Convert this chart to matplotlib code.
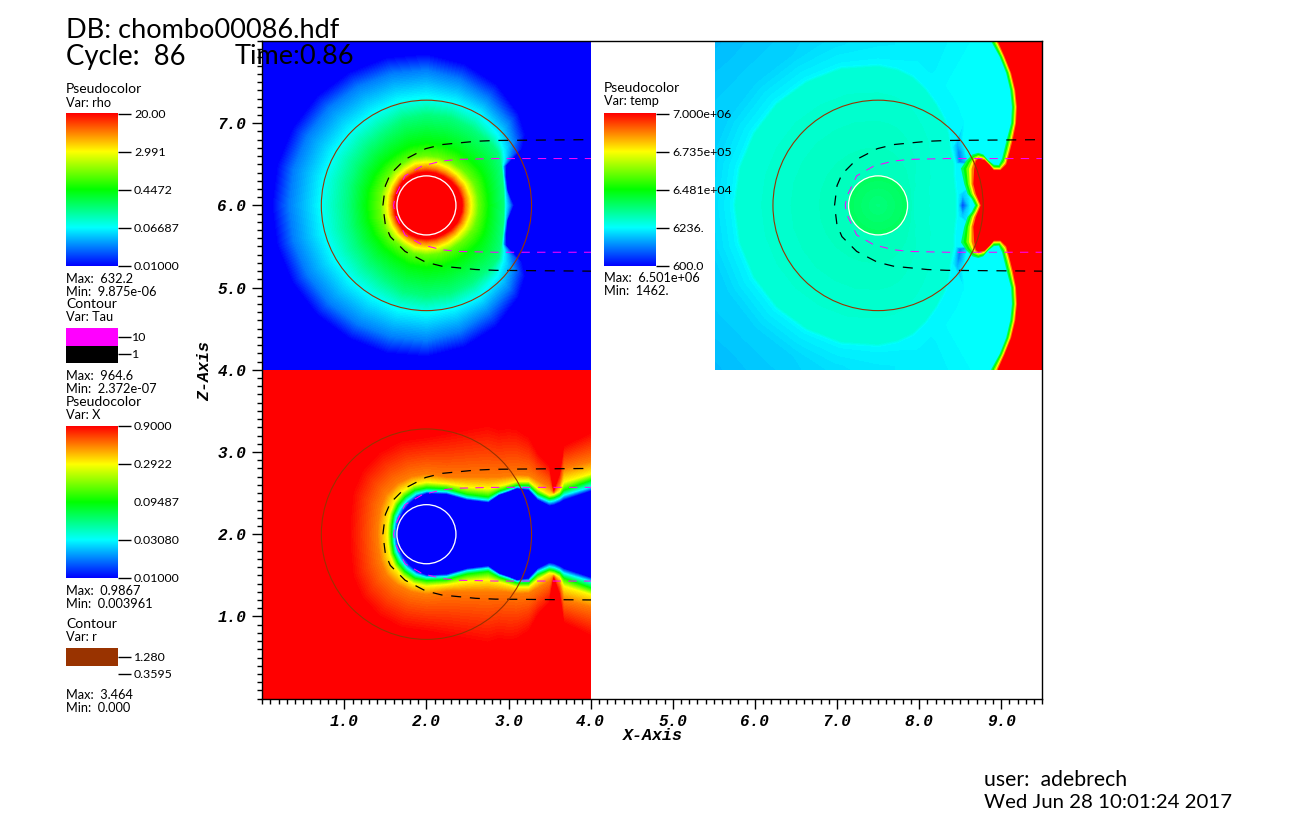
import numpy as np
import matplotlib
matplotlib.use("Agg")
import matplotlib.pyplot as plt
from matplotlib.colors import LinearSegmentedColormap
from matplotlib.patches import Rectangle, Circle
from matplotlib.ticker import MultipleLocator, FixedLocator, FixedFormatter

W, H = 1313, 822
FONT = "Lato"
RAINBOW = ["#0000ff", "#00ffff", "#00ff00", "#ffff00", "#ff0000"]

# ---------- density panel: radius at which each colour level is reached, per ray
rho_angles = [0, 10, 20, 27, 31, 36, 45, 60, 75, 90, 105, 120, 135, 150, 165, 180]
rho_levels = [1, 1, .875, .75, .6, .5, .38, .25, .125, 0, 0]
rho_radii = [
    [.43, .47, .54, .63, .75, .94, .96, 1.02, 1.06],
    [.43, .47, .54, .63, .75, .95, .97, .99, 1.00],
    [.42, .47, .53, .63, .76, .98, 1.00, 1.01, 1.03],
    [.42, .47, .53, .63, .77, 1.02, 1.04, 1.06, 1.09],
    [.42, .46, .53, .62, .77, 1.04, 1.10, 1.20, 1.36],
    [.41, .46, .52, .62, .77, 1.08, 1.15, 1.32, 1.48],
    [.41, .46, .52, .61, .76, 1.08, 1.22, 1.42, 1.58],
    [.40, .45, .52, .60, .75, 1.08, 1.28, 1.50, 1.70],
    [.40, .45, .52, .60, .75, 1.10, 1.30, 1.58, 1.78],
    [.40, .45, .52, .60, .75, 1.10, 1.32, 1.64, 1.84],
    [.40, .45, .52, .60, .74, 1.08, 1.32, 1.65, 1.86],
    [.40, .44, .50, .58, .72, 1.02, 1.30, 1.66, 1.87],
    [.40, .44, .49, .58, .72, 1.00, 1.30, 1.67, 1.88],
    [.39, .43, .48, .57, .72, .98, 1.30, 1.67, 1.88],
    [.385, .425, .475, .565, .72, .96, 1.30, 1.67, 1.88],
    [.38, .42, .47, .56, .72, .95, 1.30, 1.67, 1.88],
]

# ---------- temperature panel
temp_angles = [0, 8, 15, 22, 28, 33, 38, 45, 52, 60, 68, 75, 82, 90, 105, 120, 135, 150, 165, 180]
temp_edge = [.95, .96, .97, 1.0, 1.05, 1.08, 1.12, 1.22, 1.32, 1.42, 1.53, 1.62, 1.67, 1.70, 1.73, 1.74, 1.75, 1.75, 1.75, 1.75]
temp_dip_r = [1.03, 1.04, 1.25, 1.3, 1.13, 1.17, 1.22, 1.5, 1.6, 1.7, 1.8, 1.9, 1.95, 2.0, 2.0, 2.0, 2.0, 2.0, 2.0, 2.0]
temp_dip_level = [.06, .20, .25, .25, .11, .12, .18, .25, .25, .25, .24, .24, .235, .23, .225, .22, .22, .22, .22, .22]
temp_after_level = [.25, .25, .25, .25, .25, .25, .25, .25, .25, .25, .24, .24, .235, .23, .22, .21, .21, .21, .21, .21]
temp_far_level = [.25, .25, .25, .25, .25, .25, .25, .25, .25, .25, .24, .23, .22, .21, .195, .18, .17, .18, .185, .19]
temp_core_levels = [.38, .41, .32, .30, .29, .245]
temp_core_radii = [0, .35, .37]
front_green_x = [1.36, 1.38, 1.48, 1.56, 1.61, 1.63, 1.62, 1.58, 1.54, 1.51, 1.47, 1.41, 1.34, 1.28, 1.22, 1.15, 1.07, 1.01, 1.05, 1.09, 1.14, 1.18]
front_green_y = [2.10, 1.99, 1.81, 1.61, 1.40, 1.20, 1.00, .85, .69, .57, .49, .495, .55, .62, .64, .62, .54, .45, .26, .14, .08, 0]
front_red_x = [1.44, 1.46, 1.54, 1.62, 1.67, 1.69, 1.68, 1.64, 1.60, 1.56, 1.49, 1.41, 1.36, 1.30, 1.22, 1.19, 1.18, 1.17, 1.16, 1.19, 1.22, 1.25]
front_red_y = [2.10, 1.99, 1.81, 1.61, 1.40, 1.20, 1.00, .80, .64, .50, .43, .43, .49, .55, .57, .54, .50, .44, .26, .14, .07, 0]
front_levels = [.42, .50, .62, .75, .88, 1.0]

# ---------- hydrogen fraction panel
x_levels = [0, 0, .25, .5, .75, .875, 1, 1]
x_angles = [180, 165, 150, 135, 120, 105]
x_radii = [
    [.36, .40, .43, .48, .60, .95],
    [.37, .41, .44, .49, .61, .97],
    [.38, .43, .47, .52, .65, 1.05],
    [.40, .45, .50, .56, .70, 1.12],
    [.43, .48, .53, .60, .72, 1.17],
    [.47, .51, .56, .63, .73, 1.20],
]
x_stations = [0, .25, .5, .75, .88, 1.0, 1.1, 1.25, 1.36, 1.5, 1.55, 1.62, 1.67, 2.0, 2.1]
x_heights = [
    [.50, .53, .57, .64, .74, 1.20],
    [.49, .52, .56, .62, .70, 1.25],
    [.42, .45, .49, .58, .70, 1.30],
    [.39, .42, .46, .56, .70, 1.35],
    [.48, .50, .53, .59, .70, 1.30],
    [.52, .54, .57, .62, .71, 1.32],
    [.56, .58, .60, .65, .73, 1.30],
    [.54, .57, .60, .65, .72, 1.20],
    [.42, .46, .50, .56, .66, 1.00],
    [.35, .40, .44, .48, .58, .85],
    [.36, .41, .45, .49, .51, .54],
    [.39, .44, .48, .53, .60, .75],
    [.42, .48, .54, .64, .80, 1.09],
    [.53, .58, .66, .74, .89, 1.25],
    [.53, .58, .66, .74, .89, 1.25],
]

# ---------- contour curves (offsets from each panel's star centre)
tau1_x = [-.53, -.50, -.44, -.26, -.01, .19, .60, .84, 2.02]
tau1_y = [0, .24, .38, .56, .69, .74, .78, .79, .80]
tau10_x = [-.40, -.38, -.26, -.05, .19, .39, .84, 2.02]
tau10_y = [0, .11, .36, .48, .54, .56, .57, .57]
r_contours = [1.28, .3595]
panel_centres = [(2, 6), (7.5, 6), (2, 2)]
panel_boxes = [(0, 4, 4.01, 4.0), (5.52, 4, 3.98, 4.0), (0, 0, 4.01, 4.0)]

# ---------- legends
rho_ticks = ["20.00", "2.991", "0.4472", "0.06687", "0.01000"]
temp_ticks = ["7.000e+06", "6.735e+05", "6.481e+04", "6236.", "600.0"]
x_ticks = ["0.9000", "0.2922", "0.09487", "0.03080", "0.01000"]
major_x = [1, 2, 3, 4, 5, 6, 7, 8, 9]
major_y = [1, 2, 3, 4, 5, 6, 7]

cmap = LinearSegmentedColormap.from_list("rainbow", RAINBOW, N=256)
fig = plt.figure(figsize=(W / 100, H / 100), dpi=100, facecolor="white")
ax = fig.add_axes([262.2 / W, (H - 698.6) / H, 780.1 / W, 657.6 / H])
ax.set_xlim(0, 9.5)
ax.set_ylim(0, 8)

LEVELS = np.linspace(-.001, 1.001, 129)


def field(X, Y, Z, box):
    cs = ax.contourf(X, Y, Z, levels=LEVELS, cmap=cmap, vmin=0, vmax=1, zorder=1)
    cs.set_clip_path(Rectangle(box[:2], box[2], box[3], transform=ax.transData))


def mirror(a, sign=1):
    a = np.asarray(a, float)
    return np.vstack([a, sign * a[-2::-1]])


# density
ang = np.radians(rho_angles)
R = np.column_stack([np.zeros(len(ang)), np.array(rho_radii), np.full(len(ang), 3.2)])
Z = np.tile(rho_levels, (len(ang), 1))
A = np.tile(ang[:, None], (1, R.shape[1]))
X0, Y0 = R * np.cos(A), R * np.sin(A)
field(2 + mirror(X0), 6 + mirror(Y0, -1), mirror(Z), panel_boxes[0])

# temperature base
ang = np.radians(temp_angles)
n = len(ang)
edge = np.array(temp_edge)
dip_r = np.array(temp_dip_r)
R = np.column_stack([np.full(n, temp_core_radii[0]), np.full(n, temp_core_radii[1]), np.full(n, temp_core_radii[2]),
                     edge - .5, edge - .02, edge + .02, dip_r, dip_r + .1, np.full(n, 3.2)])
Z = np.column_stack([np.full(n, temp_core_levels[0]), np.full(n, temp_core_levels[1]), np.full(n, temp_core_levels[2]),
                     np.full(n, temp_core_levels[3]), np.full(n, temp_core_levels[4]), np.full(n, temp_core_levels[5]),
                     np.array(temp_dip_level), np.array(temp_after_level), np.array(temp_far_level)])
A = np.tile(ang[:, None], (1, R.shape[1]))
X0, Y0 = R * np.cos(A), R * np.sin(A)
field(7.5 + mirror(X0), 6 + mirror(Y0, -1), mirror(Z), panel_boxes[1])

# temperature front, drawn as nested regions from the outer rim inwards
gx, gy, rx, ry = map(np.array, (front_green_x, front_green_y, front_red_x, front_red_y))
box = panel_boxes[1]
for t, lev in zip(np.linspace(0, 1, len(front_levels)), front_levels):
    fx = (1 - t) * gx + t * rx
    fy = (1 - t) * gy + t * ry
    px = np.r_[2.3, fx, fx[-2::-1], 2.3]
    py = np.r_[2.1, fy, -fy[-2::-1], -2.1]
    poly = ax.fill(7.5 + px, 6 + py, color=cmap(lev), lw=0, zorder=2)[0]
    poly.set_clip_path(Rectangle(box[:2], box[2], box[3], transform=ax.transData))

# hydrogen fraction
ang = np.radians(x_angles)
n_a = len(ang)
Rp = np.array(x_radii)
Xp = np.column_stack([np.zeros(n_a), Rp, np.full(n_a, 3.2)]) * np.cos(ang)[:, None]
Yp = np.column_stack([np.zeros(n_a), Rp, np.full(n_a, 3.2)]) * np.sin(ang)[:, None]
st = np.array(x_stations)
Hh = np.array(x_heights)
Xs = np.tile(st[:, None], (1, 8))
Ys = np.column_stack([np.zeros(len(st)), Hh, np.full(len(st), 3.2)])
Xu = np.vstack([Xs[::-1], Xp[::-1]])
Yu = np.vstack([Ys[::-1], Yp[::-1]])
XX = np.vstack([Xu, Xu[-2::-1]])
YY = np.vstack([Yu, -Yu[-2::-1]])
ZZ = np.tile(x_levels, (XX.shape[0], 1))
field(2 + XX, 2 + YY, ZZ, panel_boxes[2])

# contour lines in all panels
for (cx, cy), b in zip(panel_centres, panel_boxes):
    clip = Rectangle(b[:2], b[2], b[3], transform=ax.transData)
    for rad, col, lw in zip(r_contours, ["#993300", "white"], [.8, .95]):
        c = Circle((cx, cy), rad, fill=False, ec=col, lw=lw, zorder=4)
        ax.add_patch(c)
    for xs, ys, col, lw in ((tau1_x, tau1_y, "black", .9), (tau10_x, tau10_y, "#ff00ff", .75)):
        xs, ys = np.array(xs), np.array(ys)
        lx = np.r_[xs[::-1], xs[1:]]
        ly = np.r_[-ys[::-1], ys[1:]]
        l1, = ax.plot(cx + lx, cy + ly, color=col, lw=lw, ls=(0, (8, 7)), zorder=3.5)
        l1.set_clip_path(clip)

# axes furniture
ax.xaxis.set_major_locator(FixedLocator(major_x))
ax.xaxis.set_major_formatter(FixedFormatter([f"{v:.1f}" for v in major_x]))
ax.yaxis.set_major_locator(FixedLocator(major_y))
ax.yaxis.set_major_formatter(FixedFormatter([f"{v:.1f}" for v in major_y]))
ax.xaxis.set_minor_locator(MultipleLocator(.1))
ax.yaxis.set_minor_locator(MultipleLocator(.1))
ax.tick_params(which="major", length=7.4, width=1, pad=4, direction="out")
ax.tick_params(which="minor", length=3.6, width=1, direction="out")
for lab in ax.get_xticklabels() + ax.get_yticklabels():
    lab.set_family("Liberation Mono")
    lab.set_weight("bold")
    lab.set_style("italic")
    lab.set_size(11.5)
for s in ax.spines.values():
    s.set_linewidth(1)
    s.set_zorder(6)

# overlay in pixel coordinates for annotations and legends
ov = fig.add_axes([0, 0, 1, 1], zorder=10)
ov.set_xlim(0, W)
ov.set_ylim(H, 0)
ov.axis("off")
ov.patch.set_alpha(0)


def txt(x, y, s, size=9.2, **kw):
    kw.setdefault("family", FONT)
    ov.text(x, y, s, fontsize=size, va="center", ha=kw.pop("ha", "left"), color="black", **kw)


def bar(x, y0, y1):
    grad = np.linspace(1, 0, 256)[:, None]
    ov.imshow(grad, cmap=cmap, vmin=0, vmax=1, extent=(x, x + 52, y1, y0), aspect="auto", zorder=1, interpolation="bilinear")
    ov.set_xlim(0, W)
    ov.set_ylim(H, 0)


def tick(x, y, s, length=13, show=True, gap=3):
    if show:
        ov.plot([x, x + length], [y, y], color="black", lw=1, solid_capstyle="butt")
    txt(x + length + gap, y, s, size=8.9)


txt(66, 30, "DB: chombo00086.hdf", size=19.5)
txt(66, 57, "Cycle:  86", size=19.8)
txt(235, 57, "Time:0.86", size=19.5)
txt(984, 780, "user:  adebrech", size=15.3)
txt(984, 802, "Wed Jun 28 10:01:24 2017", size=14.7)

txt(66, 89, "Pseudocolor", size=10)
txt(66, 103, "Var: rho")
bar(66, 114, 266)
for y, s in zip([114, 152, 190, 228, 266], rho_ticks):
    tick(118, y, s)
txt(66, 279, "Max:  632.2")
txt(66, 292, "Min:  9.875e-06")
txt(66, 304, "Contour", size=10)
txt(66, 317, "Var: Tau")
ov.add_patch(Rectangle((66, 328), 52, 18, fc="#ff00ff", lw=0))
ov.add_patch(Rectangle((66, 346), 52, 17, fc="black", lw=0))
tick(118, 337, "10", length=13, gap=1)
tick(118, 354, "1", length=13, gap=1)
txt(66, 376, "Max:  964.6")
txt(66, 389, "Min:  2.372e-07")
txt(66, 402, "Pseudocolor", size=10)
txt(66, 415, "Var: X")
bar(66, 426, 578)
for y, s, vis in zip([426, 464, 502, 540, 578], x_ticks, [True, True, False, True, True]):
    tick(118, y, s, show=vis)
txt(66, 591, "Max:  0.9867")
txt(66, 604, "Min:  0.003961")
txt(66, 624, "Contour", size=10)
txt(66, 637, "Var: r")
ov.add_patch(Rectangle((66, 648), 52, 18, fc="#993300", lw=0))
tick(118, 657, "1.280")
tick(118, 674, "0.3595")
txt(66, 695, "Max:  3.464")
txt(66, 708, "Min:  0.000")

txt(604, 88, "Pseudocolor", size=10)
txt(604, 101, "Var: temp")
bar(604, 114, 266)
for y, s in zip([114, 152, 190, 228, 266], temp_ticks):
    tick(656, y, s)
txt(604, 278, "Max:  6.501e+06")
txt(604, 291, "Min:  1462.")

ov.text(653, 735, "X-Axis", family="Liberation Mono", weight="bold", style="italic", fontsize=12, ha="center", va="center")
ov.text(205, 371, "Z-Axis", family="Liberation Mono", weight="bold", style="italic", fontsize=12, ha="center", va="center", rotation=90)

fig.savefig("out.png", dpi=100)
